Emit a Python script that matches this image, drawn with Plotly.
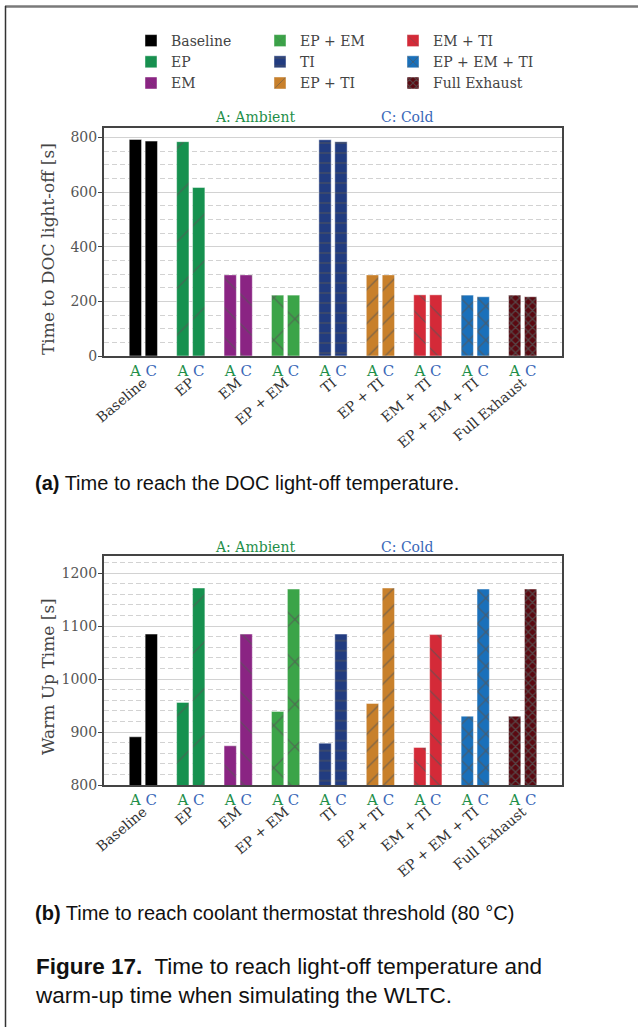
import plotly.graph_objects as go

# ---- data -------------------------------------------------------------
configs = ["Baseline", "EP", "EM", "EP + EM", "TI", "EP + TI",
           "EM + TI", "EP + EM + TI", "Full Exhaust"]

# time to DOC light-off [s]
doc_ambient = [793, 785, 297, 223, 792, 297, 224, 223, 223]
doc_cold = [787, 617, 297, 223, 785, 297, 224, 217, 217]

# warm-up time [s]
warm_ambient = [891, 956, 874, 939, 879, 954, 871, 930, 930]
warm_cold = [1085, 1172, 1085, 1170, 1085, 1172, 1084, 1170, 1170]

case_labels = ["A", "C"]

# ---- styling ----------------------------------------------------------
bar_colors = ["#000000", "#16914f", "#8a2483", "#3ba448", "#223c80",
              "#c8802b", "#d42a38", "#1a70ba", "#5a0911"]
hatch_shape = ["", "/", "\\", "x", "-", "/", "\\", "x", "x"]
hatch_size = [8, 33, 21, 30, 10, 12, 15, 12, 6]

GREEN = "#1f8f4a"
BLUE = "#3a68b8"
SERIF = "DejaVu Serif"
SANS = "Liberation Sans"
W, H = 638, 1027
OFFSET = 0.168
BAR_W = 0.26
XR = [-0.83, 8.83]
GRID = "#d2d2d2"


def px_x(p):
    return p / W


def px_y(p):
    return 1 - p / H


def pattern(i):
    shape = hatch_shape[i]
    size = hatch_size[i]
    if shape == "":
        return dict(shape="")
    if shape == "x":
        sol = min(0.9, 2.2 / size)
    else:
        sol = min(0.9, 1.1 / size)
    return dict(shape=shape, size=size, solidity=sol, fgcolor="#555555",
                fgopacity=0.8, bgcolor=bar_colors[i], fillmode="replace")


fig = go.Figure()

idx = list(range(len(configs)))
panels = [("x", "y", doc_ambient, doc_cold, True),
          ("x2", "y2", warm_ambient, warm_cold, False)]

for xa, ya, amb, cold, show in panels:
    for i, name in enumerate(configs):
        fig.add_trace(go.Bar(
            x=[i - OFFSET, i + OFFSET],
            y=[amb[i], cold[i]],
            width=[BAR_W, BAR_W],
            name=name,
            xaxis=xa, yaxis=ya,
            marker=dict(color=bar_colors[i],
                        line=dict(color="rgba(255,255,255,0.45)", width=1),
                        pattern=pattern(i)),
            showlegend=show,
            legend=["legend", "legend2", "legend3"][i // 3],
            hoverinfo="x+y",
        ))

# empty traces so the overlay category axes get drawn
fig.add_trace(go.Bar(x=[], y=[], xaxis="x3", yaxis="y", showlegend=False))
fig.add_trace(go.Bar(x=[], y=[], xaxis="x4", yaxis="y2", showlegend=False))

# A / C tick labels under every bar
ac_vals, ac_text = [], []
for i in idx:
    ac_vals += [i - OFFSET, i + OFFSET]
    ac_text += [f'<span style="color:{GREEN}">{case_labels[0]}</span>',
                f'<span style="color:{BLUE}">{case_labels[1]}</span>']

x_dom = [px_x(104), px_x(562)]
top_dom = [px_y(356), px_y(128)]
bot_dom = [px_y(785), px_y(555.7)]

common_x = dict(range=XR, showgrid=False, zeroline=False, showline=True,
                linecolor="#444444", linewidth=2, mirror=True, ticks="",
                tickmode="array", tickvals=ac_vals, ticktext=ac_text,
                automargin=False,
                tickfont=dict(family=SERIF, size=15), domain=x_dom)
cat_x = dict(range=XR, showgrid=False, zeroline=False, showline=False,
             ticks="", tickmode="array", tickvals=idx, ticktext=configs,
             tickangle=-40, ticklabelstandoff=15, automargin=False,
             tickfont=dict(family=SERIF, size=14, color="#333333"))
common_y = dict(showline=True, linecolor="#444444", linewidth=2, mirror=True,
                ticks="outside", ticklen=4, tickcolor="#444444",
                ticklabelstandoff=-2,
                zeroline=False, showgrid=True, gridcolor=GRID,
                gridwidth=1, automargin=False,
                tickfont=dict(family=SERIF, size=14, color="#555555"))
minor_grid = dict(showgrid=True, gridcolor=GRID, griddash="5px,3px",
                  gridwidth=1)

fig.update_layout(
    template="none",
    xaxis=dict(common_x, anchor="y"),
    xaxis2=dict(common_x, anchor="y2"),
    xaxis3=dict(cat_x, overlaying="x", anchor="y"),
    xaxis4=dict(cat_x, overlaying="x2", anchor="y2"),
    yaxis=dict(common_y, domain=top_dom, range=[0, 835], dtick=200,
               minor=dict(minor_grid, dtick=50)),
    yaxis2=dict(common_y, domain=bot_dom, range=[800, 1233], dtick=100,
                minor=dict(minor_grid, dtick=20)),
)

legend_font = dict(family=SERIF, size=14, color="#444444")
for k, xpos in zip(["legend", "legend2", "legend3"], [131, 260, 393]):
    fig.update_layout({k: dict(x=px_x(xpos), y=px_y(25), xanchor="left",
                               yanchor="top", orientation="v",
                               bgcolor="rgba(0,0,0,0)", borderwidth=0,
                               font=legend_font, itemclick=False,
                               tracegroupgap=0)})


def note(x, y, text, font, **kw):
    d = dict(x=px_x(x), y=px_y(y), xref="paper", yref="paper", text=text,
             showarrow=False, xanchor="center", yanchor="middle", font=font)
    d.update(kw)
    return d


annotations = []
for yc in (117, 546.5):
    annotations.append(note(255, yc, "A: Ambient",
                            dict(family=SERIF, size=14, color=GREEN)))
    annotations.append(note(406.5, yc, "C: Cold",
                            dict(family=SERIF, size=14, color=BLUE)))

title_font = dict(family=SERIF, size=17, color="#444444")
annotations.append(note(48, 249, "Time to DOC light-off [s]", title_font,
                        textangle=-90))
annotations.append(note(48, 677, "Warm Up Time [s]", title_font,
                        textangle=-90))

cap_font = dict(family=SANS, size=20, color="#111111")
annotations.append(note(33, 483, "<b>(a)</b> Time to reach the DOC light-off temperature.",
                        cap_font, xanchor="left"))
annotations.append(note(33, 913, "<b>(b)</b> Time to reach coolant thermostat threshold (80 °C)",
                        cap_font, xanchor="left"))
annotations.append(note(33, 980.5,
                        "<b>Figure 17.</b>  Time to reach light-off temperature and<br>"
                        "warm-up time when simulating the WLTC.",
                        dict(family=SANS, size=22.5, color="#111111"),
                        xanchor="left", align="left"))

fig.update_layout(
    width=W, height=H,
    margin=dict(l=0, r=0, t=0, b=0, pad=0, autoexpand=False),
    paper_bgcolor="white", plot_bgcolor="white",
    barmode="overlay",
    annotations=annotations,
    shapes=[
        dict(type="line", xref="paper", yref="paper",
             x0=px_x(5), x1=1, y0=px_y(6.5), y1=px_y(6.5),
             line=dict(color="#7a7a7a", width=2.5)),
        dict(type="line", xref="paper", yref="paper",
             x0=px_x(5.5), x1=px_x(5.5), y0=0, y1=px_y(6),
             line=dict(color="#333333", width=1.5)),
    ],
)

fig.write_html("out.html")
